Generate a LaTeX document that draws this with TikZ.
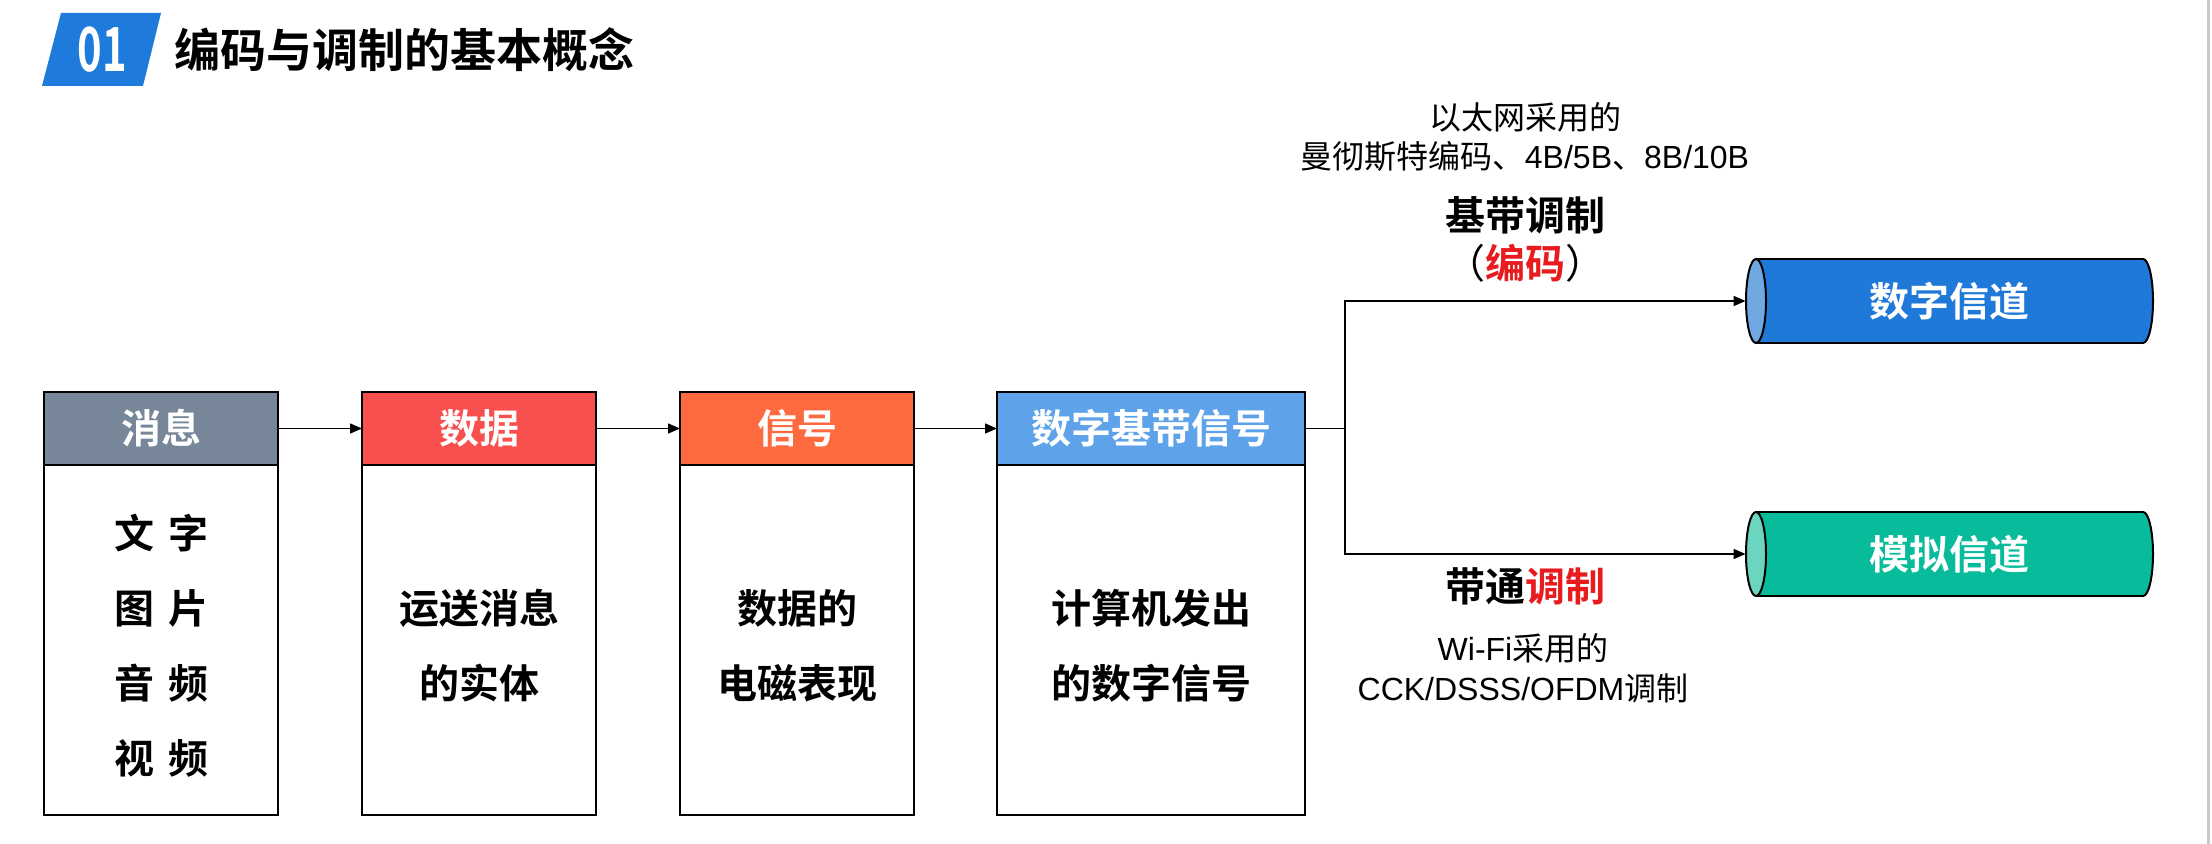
\documentclass[tikz,border=0pt]{standalone}
\usepackage{fontspec}
\setmainfont{Noto Sans CJK SC}[BoldFont={Noto Sans CJK SC Bold}]
\newfontfamily\latin{Liberation Sans}
\usetikzlibrary{arrows.meta}

\definecolor{slate}{HTML}{788699}
\definecolor{datared}{HTML}{F84F4F}
\definecolor{sigorange}{HTML}{FE6A3F}
\definecolor{baseblue}{HTML}{5EA2EA}
\definecolor{digblue}{HTML}{1E79D8}
\definecolor{digcap}{HTML}{70A9E2}
\definecolor{anateal}{HTML}{08BC9B}
\definecolor{anacap}{HTML}{6BD5C0}
\definecolor{titleblue}{HTML}{1F7BDB}
\definecolor{hot}{HTML}{E81B1F}
\definecolor{edgegray}{HTML}{C8C8C8}

\newcommand{\fsz}[2]{\fontsize{#1}{#2}\selectfont}
% centred stack of lines, lowered slightly inside its box
\newcommand{\lines}[1]{\raisebox{-2.8pt}[\height][\depth]{\begin{tabular}{@{}c@{}}#1\end{tabular}}}

% horizontal cylinder: #1 left cap x, #2 right cap x, #3 top y, #4 bottom y,
% #5 middle y, #6 half height, #7 body colour, #8 cap colour
\newcommand{\tube}[8]{%
  \fill[#7] (#1,#3) rectangle (#2,#4);
  \fill[#7] (#2,#5) ellipse[x radius=10, y radius=#6];
  \begin{scope}
    \clip (#2,#3-6) rectangle (#2+16,#4+6);
    \draw[line width=1pt] (#2,#5) ellipse[x radius=10, y radius=#6];
  \end{scope}
  \draw[line width=1pt] (#1,#3) -- (#2,#3) (#1,#4) -- (#2,#4);
  \filldraw[fill=#8, line width=1pt] (#1,#5) ellipse[x radius=10, y radius=#6];
}

\begin{document}
\begin{tikzpicture}[x=0.5pt,y=-0.5pt,
  hdr/.style={draw=black, line width=1pt, minimum width=117pt,
    minimum height=36.5pt, inner sep=0pt, outer sep=0pt, text=white,
    font=\fsz{20}{24}\bfseries, anchor=north west},
  bodybox/.style={draw=black, line width=1pt, minimum width=117pt,
    minimum height=175pt, inner sep=0pt, outer sep=0pt, anchor=north,
    align=center, font=\fsz{20}{37.5}\bfseries},
  link/.style={line width=0.75pt, -{Triangle[length=6pt,width=5pt]}},
  wire/.style={line width=0.75pt},
  note/.style={align=center, font=\fsz{16}{19.5}},
  tag/.style={align=center, font=\fsz{20}{24}\bfseries},
  tubetext/.style={minimum height=42pt, inner sep=0pt, text=white,
    font=\fsz{20}{24}\bfseries},
]
\useasboundingbox (0,0) rectangle (2212,844);
\fill[white] (0,0) rectangle (2212,844);
\fill[edgegray] (2207,0) rectangle (2210,844);

% heading
\fill[titleblue] (42,86) -- (61,13) -- (161,13) -- (143,86) -- cycle;
\node[text=white, inner sep=0pt] (num) at (102,50)
  {\scalebox{0.72}[1.05]{\fsz{29}{29}\bfseries 01}};
\node[anchor=west, inner sep=0pt, font=\fsz{23}{28}\bfseries] (title) at (174,50)
  {编码与调制的基本概念};

% the four stages
\node[hdr, fill=slate] (h1) at (44,392) {消息};
\node[bodybox] (b1) at (h1.south)
  {\lines{文\hspace{0.35em}字\\图\hspace{0.35em}片\\音\hspace{0.35em}频\\视\hspace{0.35em}频}};

\node[hdr, fill=datared] (h2) at (362,392) {数据};
\node[bodybox] (b2) at (h2.south) {\lines{运送消息\\的实体}};

\node[hdr, fill=sigorange] (h3) at (680,392) {信号};
\node[bodybox] (b3) at (h3.south) {\lines{数据的\\电磁表现}};

\node[hdr, fill=baseblue, minimum width=154pt] (h4) at (997,392) {数字基带信号};
\node[bodybox, minimum width=154pt] (b4) at (h4.south) {\lines{计算机发出\\的数字信号}};

\draw[link] (h1.east) -- (h2.west);
\draw[link] (h2.east) -- (h3.west);
\draw[link] (h3.east) -- (h4.west);

% channels
\tube{1756}{2143}{259}{343}{301}{42}{digblue}{digcap}
\tube{1756}{2143}{512}{596}{554}{42}{anateal}{anacap}
\node[tubetext, minimum width=203.5pt] (dig) at (1949.5,301) {数字信道};
\node[tubetext, minimum width=203.5pt] (ana) at (1949.5,554) {模拟信道};

% branching
\coordinate (split) at (1345,0);
\draw[wire] (h4.east) -- (h4.east -| split);
\draw[link] (h4.east -| split) |- (dig.west);
\draw[link] (h4.east -| split) |- (ana.west);

% labels of the two branches
\node[note] (ethernet) at (1525,137.5)
  {以太网采用的\\曼彻斯特编码、{\latin 4B/5B}、{\latin 8B/10B}};
\node[tag] (baseband) at (1525,239)
  {基带调制\\{\mdseries （}{\color{hot}编码}{\mdseries ）}};
\node[tag] (bandpass) at (1525,586) {带通{\color{hot}调制}};
\node[note, font=\fsz{16}{20}] (wifi) at (1523,668)
  {{\latin Wi-Fi}采用的\\{\latin CCK/DSSS/OFDM}调制};
\end{tikzpicture}
\end{document}
